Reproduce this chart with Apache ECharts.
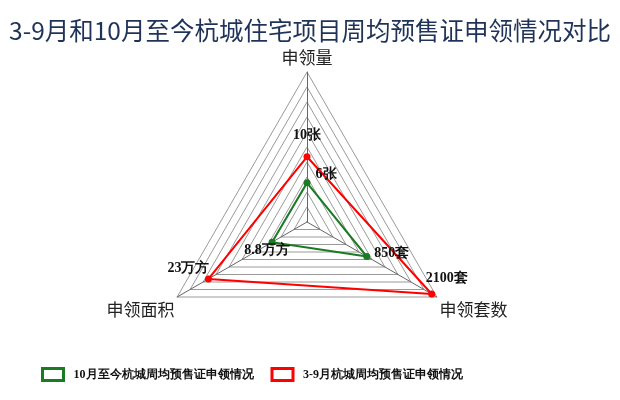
<!DOCTYPE html>
<html>
<head>
<meta charset="utf-8">
<script src="https://cdn.jsdelivr.net/npm/echarts@6/dist/echarts.min.js"></script>
<style>html,body{margin:0;padding:0;background:#fff}#c{width:620px;height:400px}</style>
</head>
<body>
<div id="c"></div>
<script>
var titleText = '3-9月和10月至今杭城住宅项目周均预售证申领情况对比';
// ECharts places indicators counter-clockwise from the top
var indicatorNames = ['申领量', '申领面积', '申领套数'];
var indicatorMin = [0, 1, -300];
var indicatorMax = [23, 30, 2200];
var units = ['张', '万方', '套'];
var seriesNames = ['10月至今杭城周均预售证申领情况', '3-9月杭城周均预售证申领情况'];
var greenValues = [6, 8.8, 850];
var redValues = [10, 23, 2100];
var seriesColors = ['#1b7b24', '#ff0000'];

// label nudges keyed by label text (style only)
var labelNudge = {};
labelNudge[redValues[0] + units[0]] = [0, -7];
labelNudge[greenValues[0] + units[0]] = [19, 6];
labelNudge[greenValues[1] + units[1]] = [-5, 23];
labelNudge[greenValues[2] + units[2]] = [25, 11];
labelNudge[redValues[1] + units[1]] = [-20, 4];
labelNudge[redValues[2] + units[2]] = [15, -1];

function fmt(values) {
  return function (p) {
    var i = values.indexOf(p.value);
    return p.value + units[i];
  };
}

var chart = echarts.init(document.getElementById('c'));
var labelFont = {fontFamily: 'Liberation Serif', fontWeight: 'bold', fontSize: 14, color: '#111'};
chart.setOption({
  backgroundColor: '#fff',
  animation: false,
  title: {
    text: titleText,
    left: 'center',
    top: 13,
    textStyle: {fontFamily: 'Noto Sans CJK SC', fontWeight: 'normal', fontSize: 24.5, color: '#1f3358'}
  },
  legend: {
    left: 36,
    top: 362,
    icon: 'rect',
    itemWidth: 21,
    itemHeight: 12,
    itemGap: 17,
    textStyle: {fontFamily: 'Liberation Serif', fontWeight: 'bold', fontSize: 12, color: '#111', padding: [0, 0, 0, 5]},
    data: [
      {name: seriesNames[0], itemStyle: {color: '#fff', borderColor: seriesColors[0], borderWidth: 3}},
      {name: seriesNames[1], itemStyle: {color: '#fff', borderColor: seriesColors[1], borderWidth: 3}}
    ]
  },
  radar: {
    center: [307, 222],
    radius: 150,
    shape: 'polygon',
    splitNumber: 10,
    nameGap: 3,
    axisName: {
      fontFamily: 'Noto Sans CJK SC', fontSize: 17, color: '#222', lineHeight: 22,
      formatter: function (name) { return indicatorNames.indexOf(name) > 0 ? '\n' + name : name; }
    },
    indicator: indicatorNames.map(function (n, i) { return {name: n, min: indicatorMin[i], max: indicatorMax[i]}; }),
    splitLine: {lineStyle: {color: '#9a9a9a', width: 1}},
    splitArea: {show: false},
    axisLine: {lineStyle: {color: '#666', width: 1}}
  },
  series: [{
    type: 'radar',
    symbol: 'circle',
    symbolSize: 7,
    labelLayout: function (p) {
      var n = labelNudge[p.text];
      return n ? {dx: n[0], dy: n[1]} : {};
    },
    data: [
      {
        name: seriesNames[0],
        value: greenValues,
        lineStyle: {color: seriesColors[0], width: 2},
        itemStyle: {color: seriesColors[0]},
        label: Object.assign({show: true, position: 'top', distance: 4, formatter: fmt(greenValues)}, labelFont)
      },
      {
        name: seriesNames[1],
        value: redValues,
        lineStyle: {color: seriesColors[1], width: 2},
        itemStyle: {color: seriesColors[1]},
        label: Object.assign({show: true, position: 'top', distance: 4, formatter: fmt(redValues)}, labelFont)
      }
    ]
  }]
});
</script>
</body>
</html>
